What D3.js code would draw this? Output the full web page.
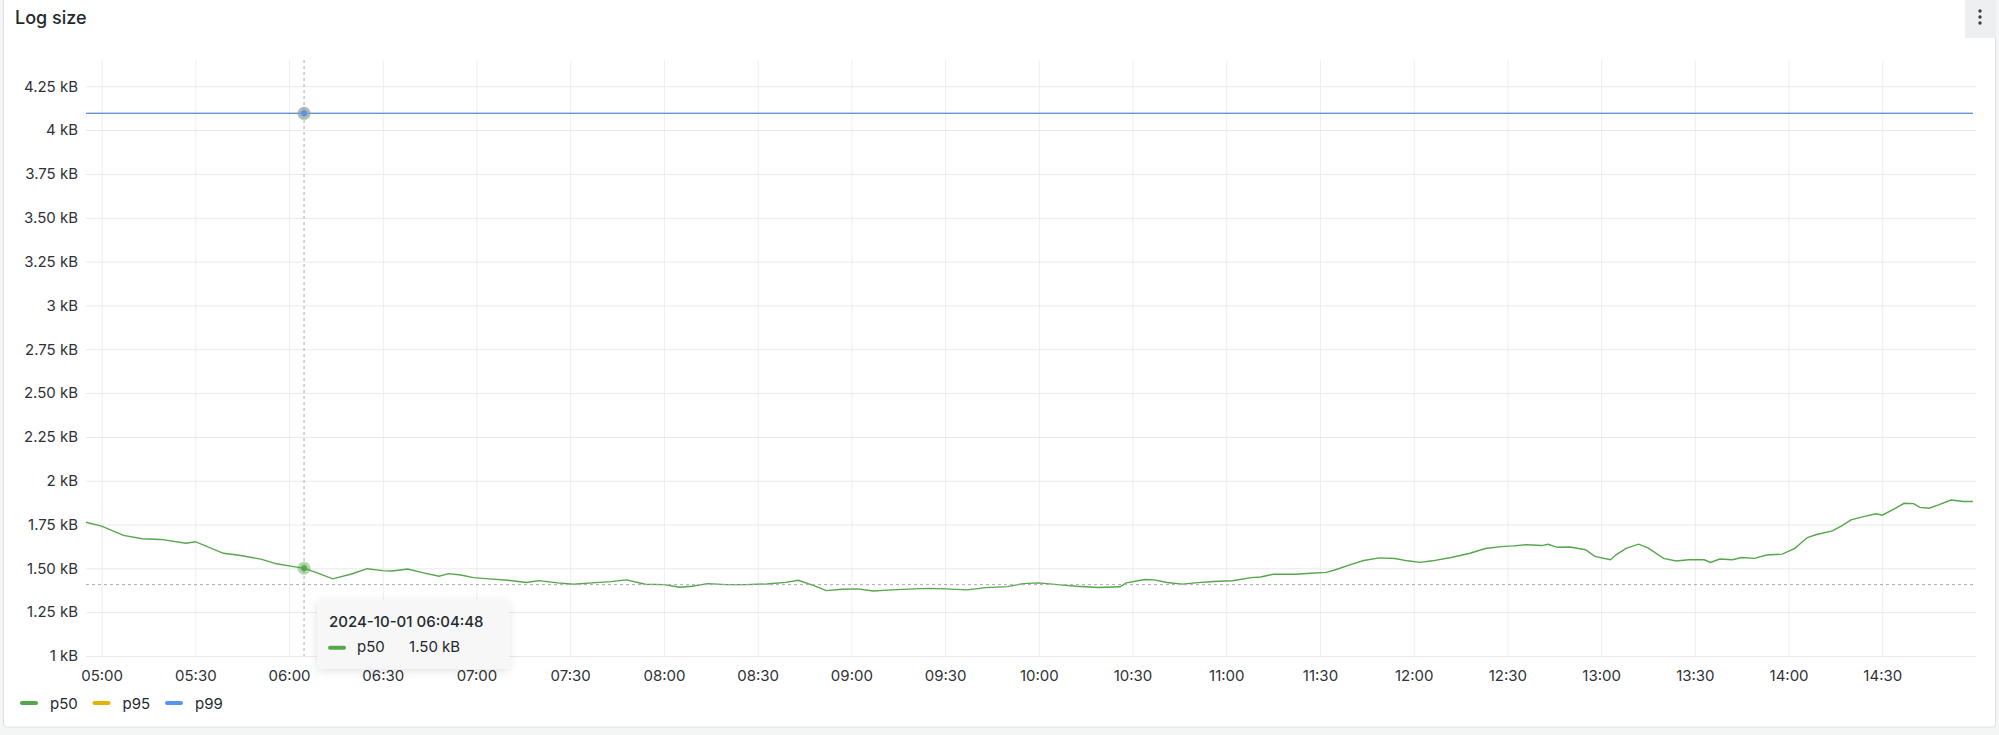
<!DOCTYPE html>
<html>
<head>
<meta charset="utf-8">
<script src="https://cdn.jsdelivr.net/npm/d3@7"></script>
<style>
  html, body { margin: 0; padding: 0; background: #f4f5f5; }
  svg { display: block; font-family: Inter, "Open Sans", sans-serif; }
</style>
</head>
<body>
<svg id="chart" width="1999" height="735" viewBox="0 0 1999 735"></svg>
<script>
// p50 log size in bytes
const p50Times = [
  "04:55", "05:00", "05:07", "05:13", "05:19", "05:27", "05:30", "05:39", "05:44", "05:51",
  "05:56", "06:01", "06:05", "06:09", "06:14", "06:20", "06:25", "06:30", "06:33", "06:38",
  "06:43", "06:48", "06:51", "06:55", "06:59", "07:04", "07:10", "07:16", "07:20", "07:26",
  "07:31", "07:37", "07:43", "07:48", "07:54", "08:00", "08:05", "08:09", "08:14", "08:20",
  "08:26", "08:33", "08:39", "08:43", "08:48", "08:52", "08:57", "09:02", "09:07", "09:13",
  "09:20", "09:25", "09:30", "09:37", "09:43", "09:50", "09:55", "10:00", "10:06", "10:12",
  "10:19", "10:26", "10:28", "10:34", "10:37", "10:41", "10:46", "10:50", "10:56", "11:02",
  "11:08", "11:11", "11:15", "11:22", "11:27", "11:32", "11:35", "11:40", "11:44", "11:49",
  "11:54", "11:58", "12:02", "12:06", "12:12", "12:18", "12:23", "12:28", "12:32", "12:36",
  "12:41", "12:43", "12:46", "12:50", "12:55", "12:58", "13:03", "13:05", "13:08", "13:12",
  "13:15", "13:20", "13:24", "13:28", "13:33", "13:35", "13:38", "13:42", "13:45", "13:49",
  "13:53", "13:58", "14:02", "14:06", "14:09", "14:14", "14:17", "14:20", "14:24", "14:28",
  "14:30", "14:34", "14:37", "14:40", "14:42", "14:45", "14:48", "14:52", "14:56", "14:59"
];
const p50Values = [
  1763, 1741, 1688, 1669, 1665, 1643, 1652, 1586, 1575, 1553,
  1526, 1511, 1500, 1474, 1440, 1468, 1498, 1487, 1485, 1496,
  1474, 1455, 1470, 1462, 1447, 1440, 1432, 1419, 1430, 1417,
  1409, 1417, 1424, 1434, 1409, 1407, 1392, 1398, 1413, 1407,
  1407, 1411, 1420, 1432, 1402, 1373, 1381, 1383, 1371, 1377,
  1383, 1386, 1383, 1377, 1390, 1396, 1413, 1417, 1407, 1398,
  1391, 1395, 1417, 1436, 1434, 1419, 1410, 1417, 1425, 1429,
  1447, 1451, 1466, 1466, 1472, 1477, 1492, 1523, 1545, 1560,
  1556, 1543, 1534, 1543, 1562, 1586, 1613, 1624, 1628, 1635,
  1630, 1637, 1620, 1622, 1606, 1568, 1549, 1580, 1614, 1638,
  1617, 1557, 1542, 1549, 1549, 1534, 1553, 1549, 1562, 1557,
  1576, 1581, 1614, 1676, 1693, 1714, 1742, 1777, 1795, 1811,
  1803, 1841, 1871, 1869, 1848, 1843, 1862, 1890, 1881, 1881
];
// p95 and p99 sit flat at the same value for the whole range
const flatTimes = ["04:55", "14:59"];
const p95Values = [4096, 4096];
const p99Values = [4096, 4096];

const seriesNames = ["p50", "p95", "p99"];
const seriesColors = ["#56A64B", "#E0B400", "#5794F2"];

const day = "2024-10-01";
const timeRange = ["04:55", "15:00"];
const yRange = [1000, 4400];
const yTickValues = [1000, 1250, 1500, 1750, 2000, 2250, 2500, 2750, 3000, 3250, 3500, 3750, 4000, 4250];

// cursor position when the picture was taken
const hoverTime = "06:04:48";
const hoverCursorValue = 1407;

const svg = d3.select("#chart");
const W = 1999, H = 735;
const margin = { left: 86, right: 23, top: 60, bottom: 79 };

const parseT = d3.timeParse("%Y-%m-%d %H:%M");
const parseTs = d3.timeParse("%Y-%m-%d %H:%M:%S");
const toDate = t => parseT(day + " " + t);

const x = d3.scaleTime()
  .domain(timeRange.map(toDate))
  .range([margin.left, W - margin.right]);
const y = d3.scaleLinear()
  .domain(yRange)
  .range([H - margin.bottom, margin.top]);

const fmtBytes = v => (v % 1000 === 0 ? (v / 1000) : (v / 1000).toFixed(2)) + " kB";

// panel
svg.append("rect")
  .attr("x", 3.5).attr("y", -4).attr("width", W - 7).attr("height", 731)
  .attr("rx", 3)
  .attr("fill", "#fff").attr("stroke", "#dfe0e2");

svg.append("text")
  .attr("x", 15).attr("y", 24)
  .attr("font-size", 18).attr("font-weight", 500)
  .attr("fill", "#24292e")
  .text("Log size");

const menu = svg.append("g");
menu.append("rect")
  .attr("x", 1965).attr("y", 0).attr("width", 31).attr("height", 38)
  .attr("fill", "#eeeff0");
menu.selectAll("circle").data([11, 17, 23]).enter().append("circle")
  .attr("cx", 1980).attr("cy", d => d).attr("r", 1.7).attr("fill", "#3d4146");

// grid + axes; no tick on the right edge itself
const xEnd = x.domain()[1];
const xTicks = x.ticks(d3.timeMinute.every(30)).filter(d => d < xEnd);
const xAxis = svg.append("g")
  .attr("transform", `translate(0,${H - margin.bottom})`)
  .call(d3.axisBottom(x)
    .tickValues(xTicks)
    .tickFormat(d3.timeFormat("%H:%M"))
    .tickSize(-(H - margin.top - margin.bottom))
    .tickPadding(14));
xAxis.select(".domain").remove();
xAxis.selectAll("line").attr("stroke", "#eeeeee");
xAxis.selectAll("text").attr("font-size", 15).attr("fill", "#2f3237")
  .attr("font-family", "Inter, sans-serif");

const yAxis = svg.append("g")
  .attr("transform", `translate(${margin.left},0)`)
  .call(d3.axisLeft(y)
    .tickValues(yTickValues)
    .tickFormat(fmtBytes)
    .tickSize(-(W - margin.left - margin.right))
    .tickPadding(8));
yAxis.select(".domain").remove();
yAxis.selectAll("line").attr("stroke", "#e9e9e9");
yAxis.selectAll("text").attr("font-size", 15).attr("fill", "#2f3237")
  .attr("font-family", "Inter, sans-serif");

// series
const line = d3.line().x(d => x(d.t)).y(d => y(d.v));
const p50 = p50Times.map((t, i) => ({ t: toDate(t), v: p50Values[i] }));
const p95 = flatTimes.map((t, i) => ({ t: toDate(t), v: p95Values[i] }));
const p99 = flatTimes.map((t, i) => ({ t: toDate(t), v: p99Values[i] }));
const allSeries = [p50, p95, p99];

svg.append("g").selectAll("path")
  .data(allSeries)
  .enter().append("path")
  .attr("d", line)
  .attr("fill", "none")
  .attr("stroke", (d, i) => seriesColors[i])
  .attr("stroke-width", (d, i) => i === 0 ? 1.4 : 1.3);

// crosshair
const ht = parseTs(day + " " + hoverTime);
const hx = x(ht);
const crossY = y(hoverCursorValue);
const cross = svg.append("g")
  .attr("stroke", "#a9abae").attr("stroke-width", 1).attr("stroke-dasharray", "3,3");
cross.append("line")
  .attr("x1", hx).attr("x2", hx).attr("y1", margin.top).attr("y2", H - margin.bottom);
cross.append("line")
  .attr("x1", margin.left).attr("x2", W - margin.right).attr("y1", crossY).attr("y2", crossY);

function valueAt(series, t) {
  const i = d3.bisector(d => d.t).left(series, t);
  if (i <= 0) return series[0].v;
  if (i >= series.length) return series[series.length - 1].v;
  const a = series[i - 1], b = series[i];
  const k = (t - a.t) / (b.t - a.t);
  return a.v + (b.v - a.v) * k;
}

const markers = svg.append("g");
allSeries.forEach((s, i) => {
  const v = valueAt(s, ht);
  markers.append("circle")
    .attr("cx", hx).attr("cy", y(v)).attr("r", 6.5)
    .attr("fill", seriesColors[i]).attr("fill-opacity", 0.45);
});
allSeries.forEach((s, i) => {
  const v = valueAt(s, ht);
  markers.append("circle")
    .attr("cx", hx).attr("cy", y(v)).attr("r", 3)
    .attr("fill", seriesColors[i]);
});

// tooltip
const defs = svg.append("defs");
const shadow = defs.append("filter").attr("id", "tipShadow")
  .attr("x", "-20%").attr("y", "-30%").attr("width", "140%").attr("height", "160%");
shadow.append("feDropShadow")
  .attr("dx", 0).attr("dy", 2).attr("stdDeviation", 4)
  .attr("flood-color", "#000").attr("flood-opacity", 0.12);

const hoverP50 = valueAt(p50, ht);
const tip = svg.append("g")
  .attr("transform", `translate(${hx + 13},${crossY + 15})`);
tip.append("rect")
  .attr("width", 192).attr("height", 69).attr("rx", 4)
  .attr("fill", "#f7f7f8").attr("filter", "url(#tipShadow)");
tip.append("text")
  .attr("x", 12).attr("y", 27)
  .attr("font-size", 15).attr("font-weight", 500).attr("fill", "#24292e")
  .text(d3.timeFormat("%Y-%m-%d %H:%M:%S")(ht));
tip.append("rect")
  .attr("x", 11).attr("y", 46).attr("width", 18).attr("height", 4).attr("rx", 2)
  .attr("fill", seriesColors[0]);
tip.append("text")
  .attr("x", 40).attr("y", 52)
  .attr("font-size", 15).attr("fill", "#24292e")
  .text(seriesNames[0]);
tip.append("text")
  .attr("x", 92).attr("y", 52)
  .attr("font-size", 15).attr("fill", "#24292e")
  .text(fmtBytes(Math.round(hoverP50 / 10) * 10).replace(/^(\d) kB/, "$1.00 kB"));

// legend
const legend = svg.append("g").attr("transform", "translate(20,703)");
const item = legend.selectAll("g")
  .data(seriesNames)
  .enter().append("g")
  .attr("transform", (d, i) => `translate(${i * 72.5},0)`);
item.append("rect")
  .attr("x", 0).attr("y", -2).attr("width", 18).attr("height", 4).attr("rx", 2)
  .attr("fill", (d, i) => seriesColors[i]);
item.append("text")
  .attr("x", 30).attr("y", 5.5)
  .attr("font-size", 15).attr("fill", "#24292e")
  .text(d => d);
</script>
</body>
</html>
